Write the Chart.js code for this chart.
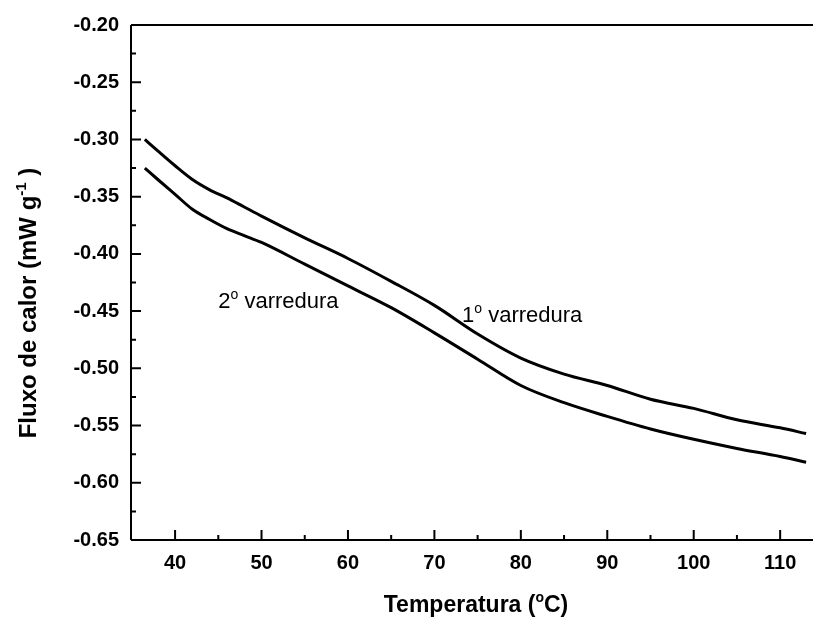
<!DOCTYPE html>
<html>
<head>
<meta charset="utf-8">
<script src="https://cdn.jsdelivr.net/npm/chart.js@4"></script>
<style>
  html, body { margin:0; padding:0; background:#fff; }
  #wrap { width:813px; height:621px; }
</style>
</head>
<body>
<div id="wrap"><canvas id="dsc"></canvas></div>
<script>
/* ── Data ─────────────────────────────────── */
const temp    = [36.5, 38, 40, 42, 44, 46, 48, 50, 55, 60, 65, 70, 75, 80, 85, 90, 95, 100, 105, 110, 113];
const fluxo1  = [-0.300, -0.310, -0.323, -0.335, -0.344, -0.351, -0.359, -0.367, -0.386, -0.404, -0.424, -0.445, -0.470, -0.491, -0.505, -0.515, -0.527, -0.535, -0.545, -0.552, -0.557];
const fluxo2  = [-0.325, -0.335, -0.348, -0.361, -0.370, -0.378, -0.384, -0.390, -0.409, -0.428, -0.447, -0.469, -0.492, -0.515, -0.530, -0.542, -0.553, -0.562, -0.570, -0.577, -0.582];

const xTicks  = [40, 45, 50, 55, 60, 65, 70, 75, 80, 85, 90, 95, 100, 105, 110];
const yTicks  = [-0.65, -0.625, -0.60, -0.575, -0.55, -0.525, -0.50, -0.475, -0.45, -0.425, -0.40, -0.375, -0.35, -0.325, -0.30, -0.275, -0.25, -0.225, -0.20];

const labels  = [
  { text: ['2', 'o', ' varredura'], x: 45.0, y: -0.4473 },
  { text: ['1', 'o', ' varredura'], x: 73.2, y: -0.4596 },
];

const FONT = '"Liberation Sans", Arial, sans-serif';
const pts = ys => temp.map((t, i) => ({ x: t, y: ys[i] }));
const isMajor = (v, step) => Math.abs(v / step - Math.round(v / step)) < 1e-6;

/* draw text made of [normal, superscript, normal] parts */
function supText(ctx, parts, x, y, size, weight) {
  let cx = x;
  parts.forEach((p, i) => {
    const sup = i % 2 === 1;
    ctx.font = `${weight} ${sup ? Math.round(size * 0.62) : size}px ${FONT}`;
    ctx.fillText(p, cx, sup ? y - size * 0.42 : y);
    cx += ctx.measureText(p).width;
  });
  return cx - x;
}
function supWidth(ctx, parts, size, weight) {
  let w = 0;
  parts.forEach((p, i) => {
    ctx.font = `${weight} ${i % 2 ? Math.round(size * 0.62) : size}px ${FONT}`;
    w += ctx.measureText(p).width;
  });
  return w;
}

/* ── Frame, inner ticks, titles, notes ───── */
const frame = {
  id: 'frame',
  afterDraw(chart) {
    const { ctx, chartArea: a, scales: { x, y } } = chart;
    ctx.save();
    ctx.strokeStyle = '#000';
    ctx.lineWidth = 2;
    ctx.beginPath();
    ctx.moveTo(a.left, a.top); ctx.lineTo(a.right, a.top);
    ctx.moveTo(a.left, a.top); ctx.lineTo(a.left, a.bottom);
    ctx.moveTo(a.left, a.bottom); ctx.lineTo(a.right, a.bottom);
    ctx.stroke();

    ctx.beginPath();
    xTicks.forEach(v => {
      const px = x.getPixelForValue(v);
      const len = isMajor(v, 10) ? 10 : 5;
      ctx.moveTo(px, a.bottom); ctx.lineTo(px, a.bottom - len);
    });
    yTicks.forEach(v => {
      const py = y.getPixelForValue(v);
      if (py <= a.top + 1) return;
      const len = isMajor(v, 0.05) ? 10 : 5;
      ctx.moveTo(a.left, py); ctx.lineTo(a.left + len, py);
    });
    ctx.stroke();

    ctx.fillStyle = '#000';
    ctx.textBaseline = 'alphabetic';

    // x title
    const xt = ['Temperatura (', 'o', 'C)'];
    const xw = supWidth(ctx, xt, 23, 'bold');
    supText(ctx, xt, (a.left + a.right) / 2 - xw / 2 + 4, 612, 23, 'bold');

    // y title
    const yt = ['Fluxo de calor (mW g', '-1', ' )'];
    const yw = supWidth(ctx, yt, 24, 'bold');
    ctx.translate(36, 303);
    ctx.rotate(-Math.PI / 2);
    supText(ctx, yt, -yw / 2, 0, 24, 'bold');
    ctx.setTransform(1, 0, 0, 1, 0, 0);

    // curve notes
    labels.forEach(l => {
      supText(ctx, l.text, x.getPixelForValue(l.x), y.getPixelForValue(l.y), 22, 'normal');
    });
    ctx.restore();
  },
};

new Chart(document.getElementById('dsc'), {
  type: 'line',
  data: {
    datasets: [
      { label: '1° varredura', data: pts(fluxo1), borderColor: '#000', borderWidth: 3, pointRadius: 0, tension: 0.4, cubicInterpolationMode: 'monotone', fill: false },
      { label: '2° varredura', data: pts(fluxo2), borderColor: '#000', borderWidth: 3, pointRadius: 0, tension: 0.4, cubicInterpolationMode: 'monotone', fill: false },
    ],
  },
  options: {
    responsive: true,
    maintainAspectRatio: false,
    animation: false,
    devicePixelRatio: 1,
    layout: { padding: { top: 25, right: 0, left: 0, bottom: 0 } },
    plugins: { legend: { display: false }, tooltip: { enabled: false } },
    scales: {
      x: {
        type: 'linear',
        min: 34.9, max: 113.8,
        afterBuildTicks: s => { s.ticks = xTicks.map(v => ({ value: v })); },
        afterFit: s => { s.height = 81; },
        grid: { display: false, drawTicks: false },
        border: { display: false },
        ticks: {
          padding: 11, color: '#000',
          font: { family: FONT, size: 20, weight: 'bold' },
          callback: v => isMajor(v, 10) ? String(v) : '',
        },
      },
      y: {
        min: -0.65, max: -0.20,
        afterBuildTicks: s => { s.ticks = yTicks.map(v => ({ value: v })); },
        afterFit: s => { s.width = 131; },
        grid: { display: false, drawTicks: false },
        border: { display: false },
        ticks: {
          padding: 12, color: '#000',
          font: { family: FONT, size: 20, weight: 'bold' },
          callback: v => isMajor(v, 0.05) ? v.toFixed(2) : '',
        },
      },
    },
  },
  plugins: [frame],
});
</script>
</body>
</html>
